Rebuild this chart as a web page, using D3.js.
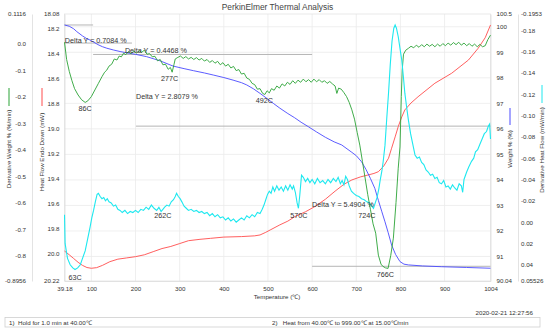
<!DOCTYPE html>
<html><head><meta charset="utf-8">
<script src="https://cdn.jsdelivr.net/npm/d3@7"></script>
<style>body{margin:0;background:#fff}svg{font-family:"Liberation Sans",Arial,sans-serif}</style>
</head><body>
<script>
// ---------- data ----------
const xTicks = [39.18, 100, 200, 300, 400, 500, 600, 700, 800, 900, 1004];
const xLabels = ["39.18","100","200","300","400","500","600","700","800","900","1004"];
const dwTicks = [0.1116, 0, -0.1, -0.2, -0.3, -0.4, -0.5, -0.6, -0.7, -0.8, -0.8956];
const dwLabels = ["0.1116","0.0","-0.1","-0.2","-0.3","-0.4","-0.5","-0.6","-0.7","-0.8","-0.8956"];
const hfTicks = [18.08, 18.2, 18.4, 18.6, 18.8, 19.0, 19.2, 19.4, 19.6, 19.8, 20.0, 20.22];
const hfLabels = ["18.08","18.2","18.4","18.6","18.8","19.0","19.2","19.4","19.6","19.8","20.0","20.22"];
const wTicks = [100.5, 100, 99, 98, 97, 96, 95, 94, 93, 92, 91, 90.04];
const wLabels = ["100.5","100","99","98","97","96","95","94","93","92","91","90.04"];
const dhfTicks = [-0.1953, -0.18, -0.16, -0.14, -0.12, -0.10, -0.08, -0.06, -0.04, -0.02, 0.00, 0.02, 0.04, 0.05526];
const dhfLabels = ["-0.1953","-0.18","-0.16","-0.14","-0.12","-0.10","-0.08","-0.06","-0.04","-0.02","0.00","0.02","0.04","0.05526"];

// Weight % (blue)
const wTemp = [39.18,50,60,67,80,90,97,104,115,125,135,150,165,180,200,225,255,285,310,331,356,376,400,421,440,452,467,482,497,512,527,545,560,575,591,610,630,650,667,690,700,712,722,732,742,750,758,765,772,780,789,799,808,818,850,893,950,1004];
const wVal = [100.07,100.02,99.92,99.81,99.64,99.53,99.48,99.41,99.30,99.22,99.16,99.09,99.03,98.98,98.92,98.83,98.67,98.46,98.36,98.28,98.19,98.11,98.01,97.91,97.81,97.72,97.57,97.39,97.20,97.00,96.81,96.60,96.44,96.26,96.09,95.88,95.67,95.49,95.37,95.08,94.95,94.71,94.41,94.06,93.67,93.20,92.75,92.36,91.95,91.45,91.08,90.80,90.70,90.67,90.63,90.60,90.57,90.54];

// Heat Flow Endo Down (red)
const hfTemp = [39.18,50,60,70,80,90,100,112,125,142,160,180,200,220,240,260,280,300,320,346,370,400,440,470,482,495,505,527,545,561,585,606,630,652,672,690,710,727,740,750,762,773,780,788,795,803,810,824,840,878,916,954,976,992,1004];
const hfVal = [19.98,20.01,20.04,20.07,20.095,20.112,20.118,20.113,20.095,20.065,20.045,20.035,20.025,20.01,19.985,19.96,19.943,19.92,19.897,19.886,19.878,19.868,19.864,19.858,19.851,19.83,19.811,19.77,19.74,19.704,19.665,19.624,19.565,19.50,19.445,19.41,19.385,19.37,19.358,19.344,19.30,19.236,19.156,19.065,18.983,18.905,18.849,18.793,18.743,18.635,18.555,18.449,18.355,18.27,18.168];

// Derivative Weight % (green)
const dwTemp = [39.18,44,50,56,62,70,78,86,92,100,108,116,124,130,135,140,146,152,158,163,168,173,178,184,190,196,202,208,214,220,226,232,238,244,250,256,262,268,274,279,283,287,290,296,302,308,314,320,326,332,338,344,350,356,362,368,374,380,386,392,398,404,410,416,422,428,434,440,446,452,458,464,470,476,482,488,493,498,503,508,514,520,526,532,538,544,550,556,562,568,574,580,586,592,598,604,610,616,622,628,634,640,646,652,656,660,666,672,678,684,690,696,702,708,714,720,726,732,738,744,750,756,760,766,772,778,784,790,795,799,802,804,807,812,818,824,830,836,842,848,854,860,866,872,878,884,890,896,902,908,914,920,926,932,938,944,950,956,962,968,974,980,986,992,998,1004];
const dwVal = [0.005,-0.06,-0.105,-0.14,-0.17,-0.194,-0.212,-0.222,-0.216,-0.200,-0.175,-0.150,-0.125,-0.108,-0.100,-0.085,-0.078,-0.058,-0.062,-0.047,-0.050,-0.036,-0.042,-0.030,-0.038,-0.028,-0.036,-0.027,-0.033,-0.025,-0.040,-0.038,-0.050,-0.048,-0.065,-0.060,-0.080,-0.078,-0.097,-0.090,-0.108,-0.080,-0.058,-0.052,-0.047,-0.056,-0.049,-0.058,-0.052,-0.060,-0.053,-0.062,-0.056,-0.066,-0.060,-0.071,-0.064,-0.074,-0.067,-0.080,-0.072,-0.085,-0.078,-0.092,-0.086,-0.102,-0.098,-0.115,-0.112,-0.130,-0.135,-0.150,-0.155,-0.172,-0.170,-0.188,-0.192,-0.178,-0.186,-0.170,-0.176,-0.160,-0.168,-0.152,-0.160,-0.146,-0.154,-0.140,-0.150,-0.138,-0.146,-0.134,-0.144,-0.136,-0.146,-0.134,-0.144,-0.136,-0.146,-0.140,-0.150,-0.143,-0.152,-0.160,-0.188,-0.168,-0.172,-0.185,-0.200,-0.222,-0.250,-0.285,-0.335,-0.383,-0.445,-0.507,-0.570,-0.625,-0.680,-0.715,-0.798,-0.832,-0.840,-0.846,-0.848,-0.800,-0.734,-0.600,-0.470,-0.390,-0.200,-0.100,-0.040,-0.025,-0.018,-0.010,-0.016,-0.006,-0.014,-0.004,-0.012,-0.002,-0.010,-0.003,-0.012,-0.002,-0.010,0.000,-0.008,0.002,-0.006,0.004,-0.004,0.005,-0.006,0.002,-0.008,0.000,-0.010,-0.002,-0.012,-0.003,-0.012,-0.008,0.015,0.032];

// Derivative Heat Flow (cyan)
const dhTemp = [39.18,40.5,46,52,58,63,69,75,80,86,92,97,101,105,109,113,116,120,124,128,132,136,140,145,150,155,160,165,170,176,182,188,194,200,206,212,218,224,230,236,242,248,253,258,262,266,271,276,281,286,290,293,297,301,305,310,315,320,326,332,338,344,350,356,362,368,374,380,386,392,398,404,410,416,422,428,434,440,446,452,458,464,470,476,482,487,491,495,499,503,507,511,515,520,525,530,535,540,545,550,555,558,562,566,569,572,576,580,585,590,595,600,606,612,618,624,630,636,642,648,654,659,664,668,672,676,680,684,689,694,700,706,712,718,724,730,735,739,743,747,751,754,758,761,765,769,773,777,781,785,788,791,795,799,803,807,810,814,818,823,829,833,838,843,848,853,858,863,868,873,878,883,888,893,898,903,908,913,918,923,928,933,938,941,944,950,955,961,966,970,975,980,985,990,995,999,1002,1004];
const dhVal = [-0.007,0.020,0.034,0.040,0.043,0.0445,0.043,0.040,0.034,0.027,0.015,0.005,-0.004,-0.011,-0.019,-0.026,-0.027,-0.024,-0.022,-0.023,-0.020,-0.022,-0.019,-0.018,-0.015,-0.016,-0.012,-0.011,-0.009,-0.011,-0.008,-0.010,-0.009,-0.011,-0.009,-0.012,-0.011,-0.014,-0.012,-0.016,-0.013,-0.011,-0.014,-0.010,-0.012,-0.014,-0.016,-0.015,-0.019,-0.021,-0.024,-0.027,-0.024,-0.022,-0.019,-0.015,-0.013,-0.011,-0.012,-0.010,-0.011,-0.009,-0.010,-0.008,-0.009,-0.006,-0.008,-0.005,-0.007,-0.004,-0.005,-0.002,-0.004,-0.001,-0.003,0.000,-0.002,-0.004,-0.002,-0.006,-0.004,-0.007,-0.005,-0.009,-0.008,-0.012,-0.016,-0.021,-0.026,-0.029,-0.027,-0.033,-0.029,-0.034,-0.030,-0.033,-0.029,-0.034,-0.030,-0.035,-0.031,-0.034,-0.028,-0.018,-0.013,-0.025,-0.044,-0.042,-0.038,-0.041,-0.037,-0.040,-0.036,-0.041,-0.037,-0.039,-0.036,-0.040,-0.037,-0.041,-0.038,-0.042,-0.036,-0.039,-0.035,-0.043,-0.040,-0.034,-0.029,-0.027,-0.025,-0.024,-0.022,-0.021,-0.019,-0.018,-0.015,-0.013,-0.018,-0.023,-0.031,-0.039,-0.048,-0.057,-0.072,-0.097,-0.121,-0.148,-0.170,-0.182,-0.185,-0.182,-0.174,-0.163,-0.152,-0.135,-0.121,-0.108,-0.096,-0.083,-0.071,-0.063,-0.060,-0.061,-0.056,-0.054,-0.049,-0.047,-0.044,-0.045,-0.041,-0.042,-0.037,-0.036,-0.039,-0.033,-0.034,-0.031,-0.035,-0.032,-0.030,-0.036,-0.034,-0.028,-0.040,-0.047,-0.052,-0.057,-0.060,-0.066,-0.068,-0.073,-0.078,-0.083,-0.085,-0.090,-0.092,-0.078];

// Delta Y step levels (weight %)
const stepLevels = [100.07, 99.3616, 98.9148, 96.1069, 90.6165];
const stepFrom = [39.18, 39.18, 104, 201, 600];
const stepTo = [104, 192, 600, 1004, 1004];
const deltaTexts = ["Delta Y = 0.7084 %","Delta Y = 0.4468 %","Delta Y = 2.8079 %","Delta Y = 5.4904 %"];
const deltaT = [40, 176, 201, 600];
const deltaW = [99.45, 99.08, 97.27, 93.05];

// Peak labels
const dwPeakT = [86, 277, 492, 766];
const dwPeakLbl = ["86C","277C","492C","766C"];
const dwPeakV = [-0.222, -0.108, -0.192, -0.848];
const dhPeakT = [63, 262, 570, 724];
const dhPeakLbl = ["63C","262C","570C","724C"];
const dhPeakV = [0.0445, -0.013, -0.013, -0.013];

// ---------- chart ----------
const W = 550, H = 330;
const L = 64.5, R = 490.5, T = 14, B = 281;
const svg = d3.select("body").append("svg").attr("width", W).attr("height", H);

const x = d3.scaleLinear().domain([39.18, 1004]).range([L, R]);
const yW = d3.scaleLinear().domain([90.04, 100.5]).range([B, T]);
const yHF = d3.scaleLinear().domain([18.08, 20.22]).range([T, B]);
const yDW = d3.scaleLinear().domain([-0.8956, 0.1116]).range([B, T]);
const yDH = d3.scaleLinear().domain([-0.1953, 0.05526]).range([T, B]);

const txt = "#333";
const fs = 6.2;

// title
svg.append("text").attr("x", (L + R) / 2).attr("y", 9.5).attr("text-anchor", "middle")
  .attr("font-size", 8.4).attr("fill", "#444").text("PerkinElmer Thermal Analysis");

// gridlines
svg.append("g").selectAll("line").data(xTicks.slice(1, -1)).join("line")
  .attr("x1", d => x(d)).attr("x2", d => x(d)).attr("y1", T).attr("y2", B)
  .attr("stroke", "#ebebeb").attr("stroke-width", 0.8);
svg.append("g").selectAll("line").data(wTicks.slice(1, -1)).join("line")
  .attr("x1", L).attr("x2", R).attr("y1", d => yW(d)).attr("y2", d => yW(d))
  .attr("stroke", "#ebebeb").attr("stroke-width", 0.8);
svg.append("rect").attr("x", L).attr("y", T).attr("width", R - L).attr("height", B - T)
  .attr("fill", "none").attr("stroke", "#e4e4e4").attr("stroke-width", 0.8);

function styleAxis(g) {
  g.select(".domain").attr("stroke", "#dcdcdc").attr("stroke-width", 0.8);
  g.selectAll("text").attr("font-size", fs).attr("fill", txt).attr("font-family", '"Liberation Sans",Arial,sans-serif');
}
svg.append("g").attr("transform", `translate(0,${B})`)
  .call(d3.axisBottom(x).tickValues(xTicks).tickFormat((d, i) => xLabels[i]).tickSize(0).tickPadding(6)).call(styleAxis);
svg.append("g").attr("transform", "translate(32,0)")
  .call(d3.axisLeft(yDW).tickValues(dwTicks).tickFormat((d, i) => dwLabels[i]).tickSize(0).tickPadding(6)).call(styleAxis);
svg.append("g").attr("transform", `translate(${L},0)`)
  .call(d3.axisLeft(yHF).tickValues(hfTicks).tickFormat((d, i) => hfLabels[i]).tickSize(0).tickPadding(5)).call(styleAxis);
svg.append("g").attr("transform", `translate(${R},0)`)
  .call(d3.axisRight(yW).tickValues(wTicks).tickFormat((d, i) => wLabels[i]).tickSize(0).tickPadding(6)).call(styleAxis);
svg.append("g").attr("transform", "translate(518,0)")
  .call(d3.axisRight(yDH).tickValues(dhfTicks).tickFormat((d, i) => dhfLabels[i]).tickSize(0).tickPadding(3)).call(styleAxis);

// axis titles with colour keys
function yTitle(cx, cy, label, color, keyY1, keyY2) {
  svg.append("text").attr("transform", `translate(${cx},${cy}) rotate(-90)`).attr("text-anchor", "middle")
    .attr("font-size", fs).attr("fill", txt).text(label);
  svg.append("line").attr("x1", cx - 2).attr("x2", cx - 2).attr("y1", keyY1).attr("y2", keyY2)
    .attr("stroke", color).attr("stroke-width", 1);
}
yTitle(11, 149, "Derivative Weight % (%/min)", "#2aa336", 88, 106);
yTitle(44, 152, "Heat Flow Endo Down (mW)", "#ff4d4d", 88, 106);
yTitle(512, 149, "Weight % (%)", "#4a4aff", 108, 125);
yTitle(544, 150, "Derivative Heat Flow (mW/min)", "#1ee8ef", 85, 103);

svg.append("text").attr("x", 277).attr("y", 299).attr("text-anchor", "middle")
  .attr("font-size", fs).attr("fill", txt).text("Temperature (℃)");

// step lines
svg.append("g").selectAll("line").data(stepLevels).join("line")
  .attr("x1", (d, i) => x(stepFrom[i])).attr("x2", (d, i) => x(stepTo[i]))
  .attr("y1", d => yW(d)).attr("y2", d => yW(d))
  .attr("stroke", "#b5b5b5").attr("stroke-width", 1);

// curves
const line = (sx, sy) => d3.line().x(d => sx(d[0])).y(d => sy(d[1]));
svg.append("path").datum(d3.zip(hfTemp, hfVal)).attr("d", line(x, yHF))
  .attr("fill", "none").attr("stroke", "#ff4d4d").attr("stroke-width", 0.9);
svg.append("path").datum(d3.zip(wTemp, wVal)).attr("d", line(x, yW))
  .attr("fill", "none").attr("stroke", "#4a4aff").attr("stroke-width", 0.9);
svg.append("path").datum(d3.zip(dwTemp, dwVal)).attr("d", line(x, yDW))
  .attr("fill", "none").attr("stroke", "#2aa336").attr("stroke-width", 0.9);
svg.append("path").datum(d3.zip(dhTemp, dhVal)).attr("d", line(x, yDH))
  .attr("fill", "none").attr("stroke", "#1ee8ef").attr("stroke-width", 1.1);

// delta labels
svg.append("g").selectAll("text").data(deltaTexts).join("text")
  .attr("x", (d, i) => x(deltaT[i])).attr("y", (d, i) => yW(deltaW[i]) + 2.5)
  .attr("font-size", 7.2).attr("fill", "#333").text(d => d);

// peak labels
svg.append("g").selectAll("text").data(dwPeakLbl).join("text")
  .attr("x", (d, i) => x(dwPeakT[i])).attr("y", (d, i) => yDW(dwPeakV[i]) + 9)
  .attr("text-anchor", "middle").attr("font-size", 7.2).attr("fill", "#333").text(d => d);
svg.append("g").selectAll("text").data(dhPeakLbl).join("text")
  .attr("x", (d, i) => x(dhPeakT[i])).attr("y", (d, i) => yDH(dhPeakV[i]) + 10)
  .attr("text-anchor", "middle").attr("font-size", 7.2).attr("fill", "#333").text(d => d);

// footer
svg.append("text").attr("x", 533).attr("y", 315).attr("text-anchor", "end")
  .attr("font-size", fs).attr("fill", txt).text("2020-02-21 12:27:56");
svg.append("rect").attr("x", 5).attr("y", 317.5).attr("width", 535).attr("height", 9.5)
  .attr("fill", "#fff").attr("stroke", "#cfcfcf").attr("stroke-width", 0.8);
svg.append("text").attr("x", 9).attr("y", 324.5).attr("font-size", fs).attr("fill", txt)
  .attr("xml:space", "preserve").text("1)  Hold for 1.0 min at 40.00℃");
svg.append("text").attr("x", 272).attr("y", 324.5).attr("font-size", fs).attr("fill", txt)
  .attr("xml:space", "preserve").text("2)   Heat from 40.00℃ to 999.00℃ at 15.00℃/min");
</script>
</body></html>
